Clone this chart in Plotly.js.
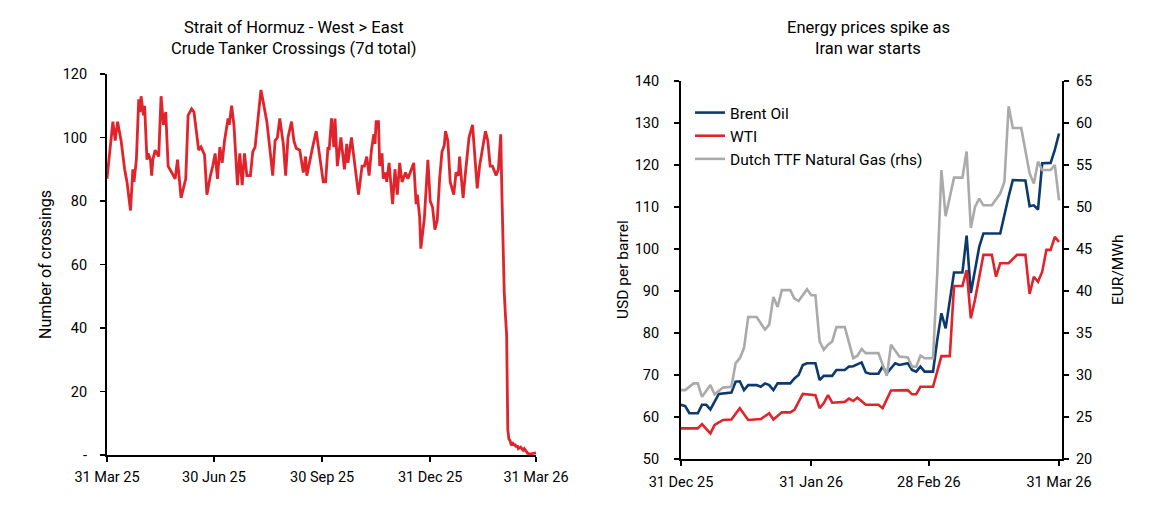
<!DOCTYPE html>
<html>
<head>
<meta charset="utf-8">
<script src="https://cdn.plot.ly/plotly-3.0.1.min.js"></script>
<style>html,body{margin:0;padding:0;background:#fff;}#chart{width:1158px;height:526px;}</style>
</head>
<body>
<div id="chart"></div>
<script>
// ---------- Left chart: Strait of Hormuz crossings ----------
var hormuzDates = [
"2025-03-31","2025-04-04","2025-04-05","2025-04-07","2025-04-09","2025-04-12","2025-04-15","2025-04-17","2025-04-20","2025-04-22",
"2025-04-23","2025-04-25","2025-04-27","2025-04-28","2025-04-29","2025-05-01","2025-05-02","2025-05-04","2025-05-05","2025-05-07",
"2025-05-08","2025-05-09","2025-05-11","2025-05-14","2025-05-16","2025-05-18","2025-05-20","2025-05-22","2025-05-25","2025-05-28",
"2025-05-30","2025-06-02","2025-06-06","2025-06-08","2025-06-11","2025-06-13","2025-06-17","2025-06-19","2025-06-22","2025-06-24",
"2025-06-27","2025-06-29","2025-07-01","2025-07-03","2025-07-05","2025-07-07","2025-07-09","2025-07-12","2025-07-13","2025-07-15",
"2025-07-17","2025-07-20","2025-07-22","2025-07-24","2025-07-26","2025-07-28","2025-07-31","2025-08-02","2025-08-04","2025-08-06",
"2025-08-09","2025-08-11","2025-08-14","2025-08-17","2025-08-19","2025-08-21","2025-08-23","2025-08-25","2025-08-28","2025-08-30",
"2025-09-01","2025-09-04","2025-09-06","2025-09-08","2025-09-11","2025-09-14","2025-09-16","2025-09-17","2025-09-20","2025-09-22",
"2025-09-25","2025-09-28","2025-10-01","2025-10-03","2025-10-05","2025-10-06","2025-10-08","2025-10-10","2025-10-11","2025-10-13",
"2025-10-16","2025-10-19","2025-10-21","2025-10-22","2025-10-25","2025-10-27","2025-10-29","2025-10-31","2025-11-03","2025-11-05",
"2025-11-07","2025-11-09","2025-11-11","2025-11-13","2025-11-14","2025-11-15","2025-11-17","2025-11-18","2025-11-20","2025-11-21",
"2025-11-23","2025-11-24","2025-11-26","2025-11-29","2025-12-01","2025-12-03","2025-12-05","2025-12-07","2025-12-10","2025-12-12",
"2025-12-14","2025-12-17","2025-12-19","2025-12-20","2025-12-22","2025-12-23","2025-12-26","2025-12-27","2025-12-29","2025-12-31",
"2026-01-02","2026-01-04","2026-01-06","2026-01-08","2026-01-10","2026-01-12","2026-01-13","2026-01-15","2026-01-17","2026-01-20",
"2026-01-22","2026-01-24","2026-01-25","2026-01-26","2026-01-28","2026-01-30","2026-02-01","2026-02-02","2026-02-05","2026-02-07",
"2026-02-09","2026-02-11","2026-02-14","2026-02-16","2026-02-18","2026-02-20","2026-02-22","2026-02-25","2026-02-27","2026-03-01",
"2026-03-02","2026-03-03","2026-03-04","2026-03-05","2026-03-06","2026-03-07","2026-03-08","2026-03-09","2026-03-10","2026-03-11",
"2026-03-12","2026-03-13","2026-03-14","2026-03-15","2026-03-16","2026-03-18","2026-03-20","2026-03-21","2026-03-23","2026-03-24",
"2026-03-26","2026-03-28","2026-03-30","2026-03-31"
];
var hormuzCrossings = [
87,103,105,99,105,99,90,86,77,90,
86,93,112,108,113,107,110,93,95,93,
88,93,96,94,113,104,108,91,89,87,
93,81,87,107,109,108,96,97,94.5,82,
88,91,95,87,97,92,99,106,104,110,
104,85,95,85,95,88,88,95.5,97,104,
115,111,105,95,88,99,100,106,98,88,
100,105,99,96.6,96,89,94,88,94,97,
102,94,86,86,97,96,106,97,106,91,
100,90,98,92,100,94,87,82,91,91,
94,88,96,101,98,105,105,91,95,87,
89,86,92,79,90,82,92,86,89,87,
89,92,79,82,75,65,74.5,80,93,80,
78,71,74,87,95.5,97.6,102,99,86,82,
89,88,94,89,81,89,96,100,104,93,
84,91,97,102,99,91,91,88,90,101,
82,62,51,44,38,8,5,4.5,3,4,
3,3.5,2.5,3,2,2.5,1.5,2,1,0.5,
0.3,0.5,0.8,0.7
];
var leftXTickVals = ["2025-03-31","2025-06-30","2025-09-30","2025-12-31","2026-03-31"];
var leftXTickText = ["31 Mar 25","30 Jun 25","30 Sep 25","31 Dec 25","31 Mar 26"];
var leftYTickVals = [0,20,40,60,80,100,120];
var leftYTickText = ["-","20","40","60","80","100","120"];

// ---------- Right chart: energy prices ----------
var brentDates = [
"2025-12-31","2026-01-01","2026-01-02","2026-01-04","2026-01-05","2026-01-06","2026-01-07","2026-01-08","2026-01-09","2026-01-12",
"2026-01-13","2026-01-14","2026-01-15","2026-01-16","2026-01-18","2026-01-19","2026-01-20","2026-01-21","2026-01-22","2026-01-23",
"2026-01-26","2026-01-27","2026-01-28","2026-01-29","2026-01-30","2026-02-01","2026-02-02","2026-02-03","2026-02-05","2026-02-06",
"2026-02-08","2026-02-09","2026-02-10","2026-02-12","2026-02-13","2026-02-14","2026-02-16","2026-02-17","2026-02-18","2026-02-20",
"2026-02-21","2026-02-23","2026-02-24","2026-02-25","2026-02-26","2026-02-27","2026-03-01","2026-03-02","2026-03-03","2026-03-04",
"2026-03-06","2026-03-08","2026-03-09","2026-03-10","2026-03-12","2026-03-13","2026-03-17","2026-03-19","2026-03-20","2026-03-23",
"2026-03-24","2026-03-25","2026-03-26","2026-03-27","2026-03-29","2026-03-30","2026-03-31"
];
var brentPrice = [
62.9,62.6,60.9,60.9,62.9,62.9,61.8,63.6,65.5,65.8,
68.4,68.5,66.4,67.6,67.6,67.2,68,67.6,66.4,68,
68,69.2,70,72.4,72.8,72.8,68.8,69.8,69.8,71.2,
71.2,72,72.1,73,70.6,70.3,70.3,72,70.4,72.8,
72.4,72.8,71.2,70.8,72,70.8,70.8,78.3,84.7,81.1,
94.4,94.4,103.2,89.5,100.5,103.7,103.7,112.5,116.4,116.3,
110.2,110.4,109.4,120.4,120.5,123.6,127.5
];
var wtiDates = [
"2025-12-31","2026-01-04","2026-01-05","2026-01-06","2026-01-07","2026-01-08","2026-01-10","2026-01-12","2026-01-13","2026-01-14",
"2026-01-16","2026-01-19","2026-01-21","2026-01-22","2026-01-24","2026-01-26","2026-01-27","2026-01-29","2026-02-01","2026-02-02",
"2026-02-03","2026-02-04","2026-02-05","2026-02-08","2026-02-09","2026-02-10","2026-02-11","2026-02-13","2026-02-16","2026-02-17",
"2026-02-19","2026-02-23","2026-02-24","2026-02-25","2026-02-26","2026-03-01","2026-03-03","2026-03-05","2026-03-06","2026-03-08",
"2026-03-09","2026-03-10","2026-03-11","2026-03-13","2026-03-15","2026-03-16","2026-03-17","2026-03-19","2026-03-21","2026-03-23",
"2026-03-24","2026-03-25","2026-03-26","2026-03-27","2026-03-28","2026-03-29","2026-03-30","2026-03-31"
];
var wtiPrice = [
57.3,57.3,58.3,57.3,56.1,58.1,59.3,59.4,60.9,62.1,
59.3,59.5,60.9,59.4,61.1,61.1,61.7,65.5,65.2,62.1,
63.3,65.2,63.4,63.6,64.4,63.8,64.6,62.9,62.9,62.1,
66.3,66.4,65.4,65.4,67.2,67.2,74.5,74.5,91.2,91.2,
95,83.5,87.9,98.6,98.6,93.4,96.6,96.6,98.6,98.6,
89.3,93.4,92.2,94.6,99.8,99.8,102.9,101.7
];
var ttfDates = [
"2025-12-31","2026-01-01","2026-01-03","2026-01-04","2026-01-05","2026-01-07","2026-01-08","2026-01-10","2026-01-12","2026-01-13",
"2026-01-14","2026-01-15","2026-01-16","2026-01-18","2026-01-20","2026-01-21","2026-01-22","2026-01-23","2026-01-24","2026-01-26",
"2026-01-27","2026-01-28","2026-01-30","2026-01-31","2026-02-01","2026-02-02","2026-02-03","2026-02-04","2026-02-05","2026-02-06",
"2026-02-08","2026-02-09","2026-02-10","2026-02-11","2026-02-12","2026-02-13","2026-02-16","2026-02-18","2026-02-19","2026-02-21",
"2026-02-23","2026-02-24","2026-02-25","2026-02-26","2026-02-27","2026-03-01","2026-03-02","2026-03-03","2026-03-04","2026-03-06",
"2026-03-08","2026-03-09","2026-03-10","2026-03-11","2026-03-12","2026-03-13","2026-03-15","2026-03-17","2026-03-18","2026-03-19",
"2026-03-20","2026-03-22","2026-03-23","2026-03-24","2026-03-25","2026-03-26","2026-03-27","2026-03-29","2026-03-30","2026-03-31"
];
var ttfPrice = [
28.2,28.2,29,29,27.4,28.8,27.7,28.5,28.6,31.4,
32,33.2,36.9,36.9,35.4,36,39.3,38.1,40.1,40.1,
39.1,38.8,40.2,39.5,39.5,34,33,33.6,34,35.7,
35.7,34,32,32.3,33.1,32.6,32.6,29.9,33.6,32.2,
32.1,31,31,32.3,32,32,42,54.4,48.9,53.5,
53.5,56.6,47.5,50,51,50.2,50.2,51.6,53,62,
59.4,59.4,56.6,54,52.8,55.4,54.4,54.4,55,50.8
];
var rightXTickVals = ["2025-12-31","2026-01-31","2026-02-28","2026-03-31"];
var rightXTickText = ["31 Dec 25","31 Jan 26","28 Feb 26","31 Mar 26"];
var seriesNames = ["Brent Oil","WTI","Dutch TTF Natural Gas (rhs)"];

var W = 1158, H = 526;
function px(x){ return x / W; }
function py(y){ return 1 - y / H; }
var FONT = "Roboto, 'Noto Sans', sans-serif";

var axisCommon = {
  showline: true, linecolor: "#000", linewidth: 2,
  ticks: "outside", ticklen: 5, tickwidth: 1.5, tickcolor: "#000",
  showgrid: false, zeroline: false, fixedrange: true,
  tickfont: {family: FONT, size: 14.5, color: "#000"}
};
function ax(extra){ return Object.assign({}, axisCommon, extra); }

var traces = [
  {x: hormuzDates, y: hormuzCrossings, type: "scatter", mode: "lines", xaxis: "x", yaxis: "y",
   line: {color: "#E1232B", width: 2.8}, showlegend: false, hoverinfo: "x+y"},
  {x: brentDates, y: brentPrice, type: "scatter", mode: "lines", xaxis: "x2", yaxis: "y2",
   name: seriesNames[0], legendgroup: "a", line: {color: "#0B3A6B", width: 2.6}},
  {x: wtiDates, y: wtiPrice, type: "scatter", mode: "lines", xaxis: "x2", yaxis: "y2",
   name: seriesNames[1], legendgroup: "b", line: {color: "#E1232B", width: 2.6}},
  {x: ttfDates, y: ttfPrice, type: "scatter", mode: "lines", xaxis: "x2", yaxis: "y3",
   name: seriesNames[2], legendgroup: "c", line: {color: "#AAAAAA", width: 2.6}}
];

var layout = {
  width: W, height: H,
  margin: {l: 0, r: 0, t: 0, b: 0},
  paper_bgcolor: "#fff", plot_bgcolor: "#fff",
  font: {family: FONT, size: 14, color: "#000"},
  showlegend: true,
  legend: {x: px(690), y: py(96), xanchor: "left", yanchor: "top",
           bgcolor: "rgba(0,0,0,0)", font: {family: FONT, size: 15.5, color: "#000"},
           tracegroupgap: 1, traceorder: "normal"},
  xaxis: ax({domain: [px(107), px(536)], anchor: "y", type: "date",
             range: ["2025-03-31", "2026-03-31"], tickvals: leftXTickVals, ticktext: leftXTickText,
             ticklabelstandoff: 3}),
  yaxis: ax({domain: [py(455), py(74)], anchor: "x", range: [0, 120],
             tickvals: leftYTickVals, ticktext: leftYTickText, ticklabelstandoff: 10}),
  xaxis2: ax({domain: [px(681), px(1062)], anchor: "y2", type: "date",
              range: ["2025-12-31", "2026-03-31 17:00"], tickvals: rightXTickVals, ticktext: rightXTickText,
              ticklabelstandoff: 4}),
  yaxis2: ax({domain: [py(459), py(81)], anchor: "x2", range: [50, 140], dtick: 10, tick0: 50,
              ticklabelstandoff: 12}),
  yaxis3: ax({domain: [py(459), py(81)], anchor: "x2", overlaying: "y2", side: "right",
              range: [20, 65], dtick: 5, tick0: 20, ticklabelstandoff: 4}),
  annotations: [
    {text: "Strait of Hormuz - West > East", x: px(294), y: py(27), xref: "paper", yref: "paper",
     showarrow: false, xanchor: "center", yanchor: "middle", font: {family: FONT, size: 16.5}},
    {text: "Crude Tanker Crossings (7d total)", x: px(294), y: py(48), xref: "paper", yref: "paper",
     showarrow: false, xanchor: "center", yanchor: "middle", font: {family: FONT, size: 16.5}},
    {text: "Energy prices spike as", x: px(868), y: py(27), xref: "paper", yref: "paper",
     showarrow: false, xanchor: "center", yanchor: "middle", font: {family: FONT, size: 16.5}},
    {text: "Iran war starts", x: px(868), y: py(48), xref: "paper", yref: "paper",
     showarrow: false, xanchor: "center", yanchor: "middle", font: {family: FONT, size: 16.5}},
    {text: "Number of crossings", x: px(45), y: py(265), xref: "paper", yref: "paper", textangle: -90,
     showarrow: false, xanchor: "center", yanchor: "middle", font: {family: FONT, size: 16}},
    {text: "USD per barrel", x: px(623), y: py(270), xref: "paper", yref: "paper", textangle: -90,
     showarrow: false, xanchor: "center", yanchor: "middle", font: {family: FONT, size: 15.5}},
    {text: "EUR/MWh", x: px(1118), y: py(270), xref: "paper", yref: "paper", textangle: -90,
     showarrow: false, xanchor: "center", yanchor: "middle", font: {family: FONT, size: 15.5}}
  ]
};

Plotly.newPlot("chart", traces, layout, {displayModeBar: false, staticPlot: true});
</script>
</body>
</html>
